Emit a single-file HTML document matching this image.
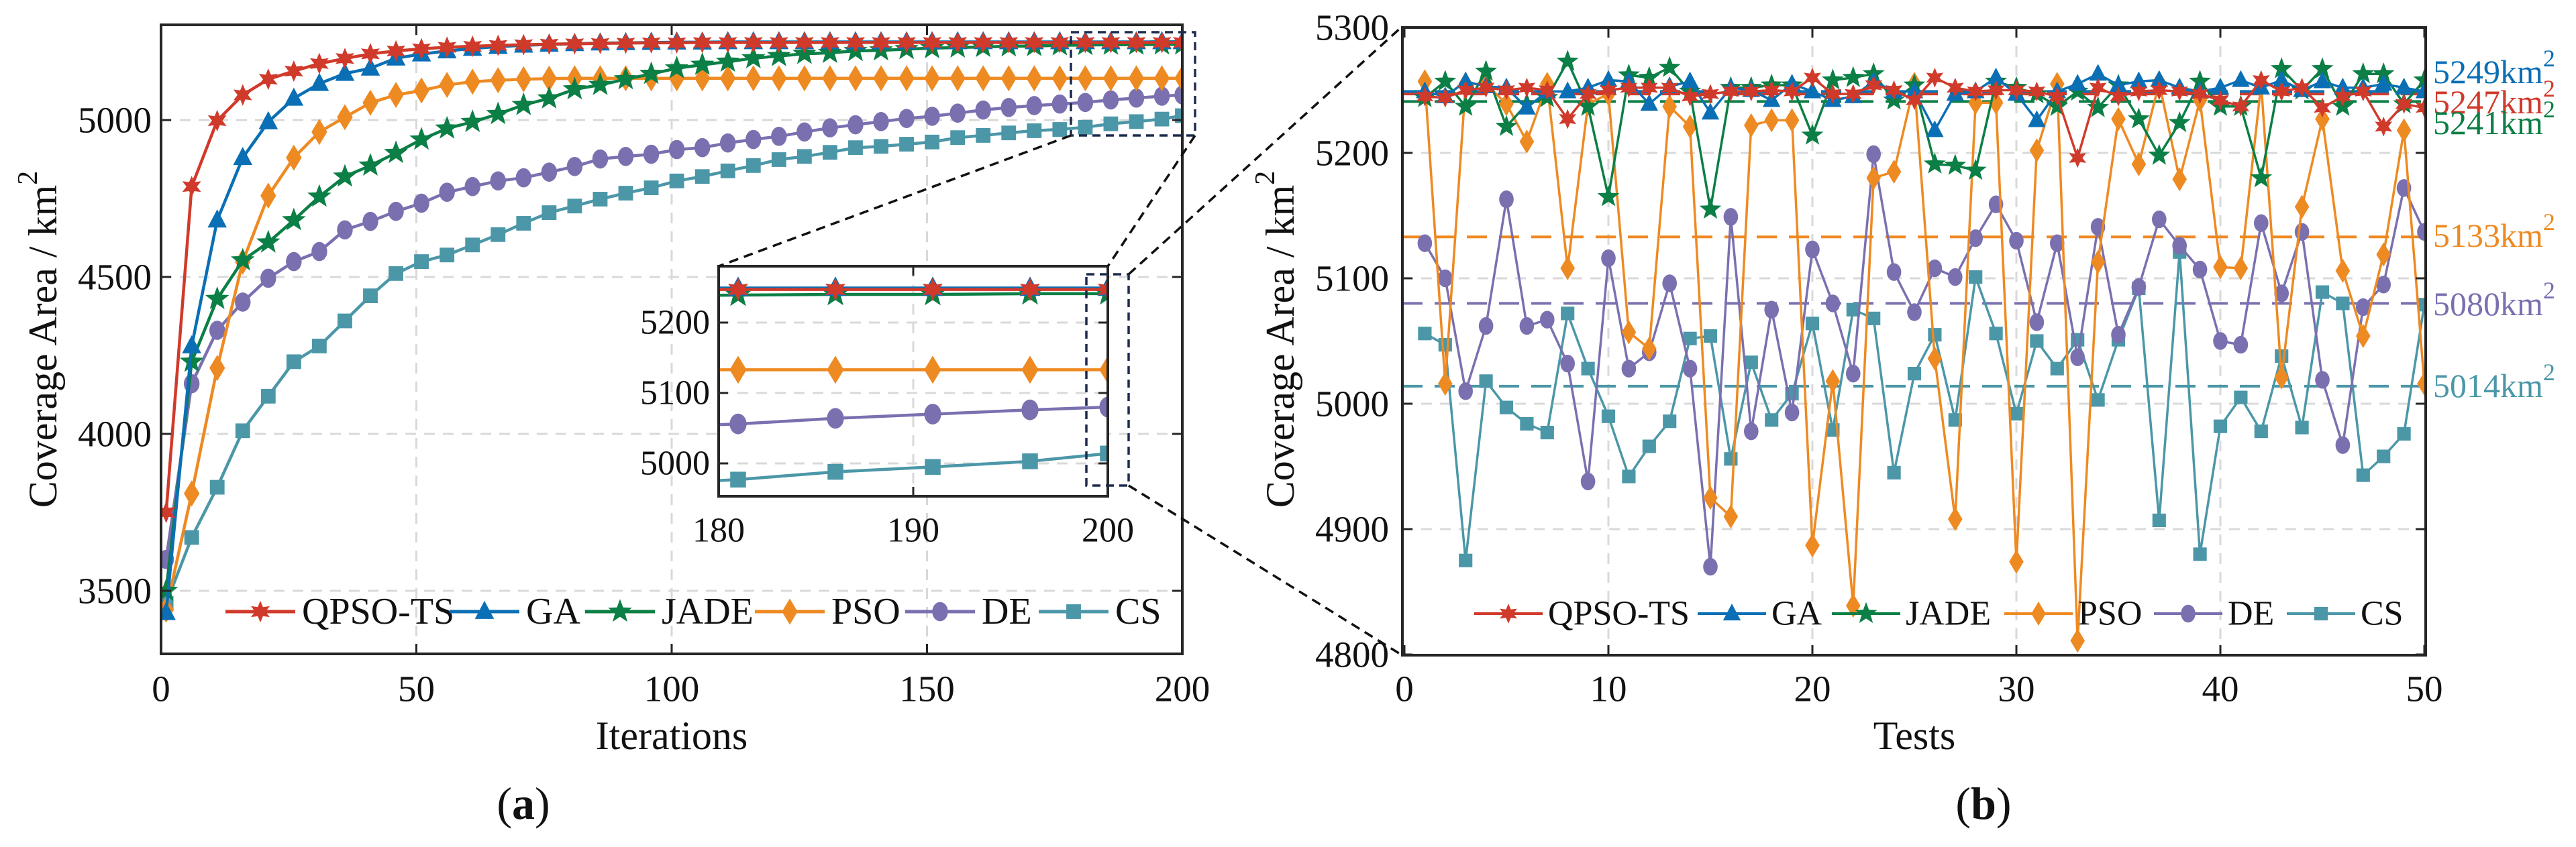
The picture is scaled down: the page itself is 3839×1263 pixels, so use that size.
<!DOCTYPE html>
<html><head><meta charset="utf-8">
<style>
html,body{margin:0;padding:0;background:#fff;}
svg{display:block;font-family:"Liberation Serif","DejaVu Serif",serif;}
</style></head>
<body>
<svg id="fig" width="3839" height="1263" viewBox="0 0 3839 1263" xmlns="http://www.w3.org/2000/svg">
<defs>
<clipPath id="clipL"><rect x="240" y="37" width="1522" height="938"/></clipPath>
<clipPath id="clipI"><rect x="1071" y="397" width="580" height="343"/></clipPath>
<clipPath id="clipR"><rect x="2090" y="41" width="1525" height="936"/></clipPath>
</defs>
<g id="root"></g>
</svg>
<script>
// ---------- data: panel (a) convergence ----------
const iterations = [1,6,11,16,21,26,31,36,41,46,51,56,61,66,71,76,81,86,91,96,101,106,111,116,121,126,131,136,141,146,151,156,161,166,171,176,181,186,191,196,200];
const seriesNames = ["QPSO-TS","GA","JADE","PSO","DE","CS"];
const convQPSO = [3750,4788,4998,5080,5130,5156,5180,5196,5211,5220,5227,5232,5235,5238,5240,5242,5243,5244,5245,5246,5246,5247,5247,5247,5247,5247,5247,5247,5247,5247,5247,5247,5247,5247,5247,5247,5247,5247,5247,5247,5247];
const convGA = [3430,4280,4681,4880,4994,5069,5116,5148,5165,5197,5210,5220,5228,5234,5238,5241,5243,5245,5246,5247,5248,5248,5249,5249,5249,5249,5249,5249,5249,5249,5249,5249,5249,5249,5249,5249,5249,5249,5249,5249,5249];
const convJADE = [3500,4230,4430,4553,4610,4681,4756,4820,4855,4895,4938,4973,4994,5019,5048,5069,5098,5112,5130,5147,5165,5176,5186,5197,5204,5211,5214,5220,5222,5226,5229,5231,5233,5235,5236,5238,5239,5240,5240,5241,5241];
const convPSO = [3440,3810,4210,4549,4759,4880,4962,5009,5055,5080,5094,5112,5122,5127,5130,5132,5133,5133,5133,5133,5133,5133,5133,5133,5133,5133,5133,5133,5133,5133,5133,5133,5133,5133,5133,5133,5133,5133,5133,5133,5133];
const convDE = [3600,4160,4330,4420,4496,4549,4581,4650,4677,4709,4735,4770,4788,4806,4816,4834,4852,4876,4884,4891,4906,4912,4927,4938,4948,4962,4975,4985,4995,5005,5012,5022,5032,5040,5046,5051,5056,5064,5070,5076,5080];
const convCS = [3460,3670,3830,4010,4120,4230,4280,4360,4440,4511,4549,4570,4602,4635,4671,4705,4726,4748,4767,4784,4806,4820,4838,4855,4874,4884,4897,4912,4916,4923,4930,4944,4951,4959,4966,4970,4977,4988,4995,5003,5014];
const xTicksA = [0,50,100,150,200];
const yTicksA = [3500,4000,4500,5000];
const xTicksInset = [180,190,200];
const yTicksInset = [5000,5100,5200];
// ---------- data: panel (b) tests ----------
const tests = [1,2,3,4,5,6,7,8,9,10,11,12,13,14,15,16,17,18,19,20,21,22,23,24,25,26,27,28,29,30,31,32,33,34,35,36,37,38,39,40,41,42,43,44,45,46,47,48,49,50];
const testQPSO = [5245,5244,5250,5252,5250,5252,5250,5227,5247,5250,5252,5252,5252,5245,5247,5249,5249,5250,5249,5260,5247,5247,5254,5250,5242,5260,5252,5249,5250,5250,5249,5245,5196,5252,5245,5249,5250,5249,5247,5242,5237,5258,5249,5252,5236,5245,5249,5221,5239,5236];
const testGA = [5249,5245,5257,5253,5252,5236,5249,5249,5252,5258,5257,5239,5253,5257,5232,5252,5250,5242,5255,5249,5242,5245,5257,5249,5249,5218,5247,5249,5260,5247,5226,5249,5255,5263,5254,5257,5258,5252,5249,5252,5258,5252,5258,5250,5257,5252,5252,5255,5252,5249];
const testJADE = [5244,5257,5237,5265,5221,5239,5244,5273,5237,5165,5262,5260,5268,5249,5155,5252,5252,5254,5254,5214,5258,5260,5263,5242,5254,5191,5190,5186,5257,5252,5247,5237,5249,5236,5254,5227,5198,5224,5257,5237,5237,5180,5267,5250,5267,5237,5263,5263,5239,5258];
const testPSO = [5257,5016,5255,5255,5239,5209,5255,5108,5239,5247,5057,5044,5237,5221,4925,4910,5222,5226,5226,4887,5018,4839,5180,5185,5255,5036,4908,5240,5240,4874,5202,5255,4811,5113,5227,5191,5256,5179,5242,5109,5108,5255,5021,5157,5227,5106,5054,5119,5218,5016];
const testDE = [5128,5100,5010,5062,5163,5062,5067,5032,4938,5116,5028,5041,5096,5028,4870,5149,4978,5075,4993,5123,5080,5024,5199,5105,5073,5108,5101,5132,5159,5130,5065,5128,5037,5141,5055,5093,5147,5126,5107,5050,5047,5144,5088,5137,5019,4967,5077,5095,5172,5137];
const testCS = [5056,5047,4875,5018,4997,4984,4977,5072,5028,4990,4942,4966,4986,5052,5054,4956,5033,4987,5008,5064,4979,5075,5068,4945,5024,5055,4987,5101,5056,4992,5050,5028,5051,5003,5051,5092,4907,5121,4880,4982,5005,4978,5038,4981,5089,5080,4943,4958,4976,5079];
const meanValues = [5247,5249,5241,5133,5080,5014];
const meanLabels = ["5247","5249","5241","5133","5080","5014"];
const xTicksB = [0,10,20,30,40,50];
const yTicksB = [4800,4900,5000,5100,5200,5300];

// ---------- styles ----------
const colors = ["#D03A2B","#0A6FB5","#0B7F45","#EE8A22","#7A70B0","#4B97A8"];
const shapes = ["hex","tri","star","dia","circ","sq"];

// ---------- axes ----------
const XA = v => 240 + (v-0)*7.61;
const YA = v => 179 + (5000-v)*0.468;
const XI = v => 1071 + (v-180)*29;
const YI = v => 586 + (5100-v)*1.05;
const XB = v => 2093 + v*30.4;
const YB = v => 41 + (5300-v)*1.87;

const NS = "http://www.w3.org/2000/svg";
const root = document.getElementById('root');
function el(tag, attrs, parent){
  const e = document.createElementNS(NS, tag);
  for (const k in attrs) e.setAttribute(k, attrs[k]);
  (parent||root).appendChild(e);
  return e;
}
function txt(x,y,s,size,anchor,parent,extra){
  const t = el('text',{x:x,y:y,'font-size':size,'text-anchor':anchor||'middle','dominant-baseline':'central',fill:'#111'},parent);
  t.textContent = s;
  if(extra) for(const k in extra) t.setAttribute(k, extra[k]);
  return t;
}
function starPts(cx,cy,n,ro,ri){
  let p=[];
  for(let i=0;i<2*n;i++){
    const a = -Math.PI/2 + i*Math.PI/n;
    const r = i%2===0?ro:ri;
    p.push((cx+r*Math.cos(a)).toFixed(1)+','+(cy+r*Math.sin(a)).toFixed(1));
  }
  return p.join(' ');
}
function marker(shape,cx,cy,s,color,parent){
  let m;
  if(shape==='circ') m = el('ellipse',{cx:cx,cy:cy,rx:s*0.45,ry:s*0.55,fill:color},parent);
  else if(shape==='sq') m = el('rect',{x:cx-s*0.42,y:cy-s*0.42,width:s*0.84,height:s*0.84,fill:color},parent);
  else if(shape==='dia') m = el('polygon',{points:`${cx},${cy-s*0.75} ${cx+s*0.45},${cy} ${cx},${cy+s*0.75} ${cx-s*0.45},${cy}`,fill:color},parent);
  else if(shape==='tri') m = el('polygon',{points:`${cx},${cy-s*0.62} ${cx+s*0.55},${cy+s*0.42} ${cx-s*0.55},${cy+s*0.42}`,fill:color},parent);
  else if(shape==='star') m = el('polygon',{points:starPts(cx,cy,5,s*0.72,s*0.3),fill:color},parent);
  else m = el('polygon',{points:starPts(cx,cy,6,s*0.62,s*0.3),fill:color},parent);
  return m;
}
function series(xs,ys,fx,fy,color,shape,lw,ms,parent,name,filt){
  const g = el('g',{},parent);
  
  
  let pts=[];
  xs.forEach((x,i)=>{ if(!filt||filt(x)) pts.push(fx(x).toFixed(1)+','+fy(ys[i]).toFixed(1)); });
  el('polyline',{points:pts.join(' '),fill:'none',stroke:color,'stroke-width':lw,'stroke-linejoin':'round'},g);
  xs.forEach((x,i)=>{ if(!filt||filt(x)){
    const m = marker(shape,fx(x),fy(ys[i]),ms,color,g);
    
    
  }});
  return g;
}
const GRID = '#d9d9d9';

// ================= Panel (a) =================
const pa = el('g',{});


// grid
xTicksA.forEach(v=>{ if(v>0&&v<200){ const l=el('line',{x1:XA(v),y1:37,x2:XA(v),y2:975,stroke:GRID,'stroke-width':3,'stroke-dasharray':'16 12'},pa);
    }});
yTicksA.forEach(v=>{ const l=el('line',{x1:240,y1:YA(v),x2:1762,y2:YA(v),stroke:GRID,'stroke-width':3,'stroke-dasharray':'16 12'},pa);
    });
// series
const convAll = [convQPSO,convGA,convJADE,convPSO,convDE,convCS];
const gA = el('g',{'clip-path':'url(#clipL)'},pa);
for(let k=5;k>=0;k--) series(iterations,convAll[k],XA,YA,colors[k],shapes[k],4.5,26,gA,'series-'+seriesNames[k].toLowerCase());
// frame & ticks
const fa = el('rect',{x:240,y:37,width:1522,height:938,fill:'none',stroke:'#262626','stroke-width':4},pa);
 
xTicksA.forEach(v=>{
  el('line',{x1:XA(v),y1:975,x2:XA(v),y2:960,stroke:'#262626','stroke-width':3},pa);
  el('line',{x1:XA(v),y1:37,x2:XA(v),y2:52,stroke:'#262626','stroke-width':3},pa);
  const t=txt(XA(v),1027,String(v),55,'middle',pa);
   
});
yTicksA.forEach(v=>{
  el('line',{x1:240,y1:YA(v),x2:255,y2:YA(v),stroke:'#262626','stroke-width':3},pa);
  el('line',{x1:1762,y1:YA(v),x2:1747,y2:YA(v),stroke:'#262626','stroke-width':3},pa);
  const t=txt(226,YA(v),String(v),55,'end',pa);
   
});
// zoom box
const zb = el('rect',{x:1596,y:48,width:185,height:154,fill:'none',stroke:'#1d2b4f','stroke-width':3.5,'stroke-dasharray':'12 8'},pa);
 
// connectors
[[1596,202,1071,397],[1781,202,1651,397],[1682,409,2088,41],[1682,724,2088,976]].forEach(c=>{
  const l = el('line',{x1:c[0],y1:c[1],x2:c[2],y2:c[3],stroke:'#111','stroke-width':3.5,'stroke-dasharray':'14 9'});
   
});
// inset
const ins = el('g',{},pa);
 
el('rect',{x:1071,y:397,width:580,height:343,fill:'#fff'},ins);
el('line',{x1:XI(190),y1:397,x2:XI(190),y2:740,stroke:GRID,'stroke-width':3,'stroke-dasharray':'16 12'},ins);
yTicksInset.forEach(v=>el('line',{x1:1071,y1:YI(v),x2:1651,y2:YI(v),stroke:GRID,'stroke-width':3,'stroke-dasharray':'16 12'},ins));
const gI = el('g',{'clip-path':'url(#clipI)'},ins);
for(let k=5;k>=0;k--) series(iterations,convAll[k],XI,YI,colors[k],shapes[k],4.5,28,gI,'inset-series-'+seriesNames[k].toLowerCase(),x=>x>=176);
el('rect',{x:1071,y:397,width:580,height:343,fill:'none',stroke:'#262626','stroke-width':4},ins);
xTicksInset.forEach(v=>{
  el('line',{x1:XI(v),y1:740,x2:XI(v),y2:726,stroke:'#262626','stroke-width':3},ins);
  el('line',{x1:XI(v),y1:397,x2:XI(v),y2:411,stroke:'#262626','stroke-width':3},ins);
  const t=txt(XI(v),791,String(v),52,'middle',ins);
   
});
yTicksInset.forEach(v=>{
  el('line',{x1:1071,y1:YI(v),x2:1085,y2:YI(v),stroke:'#262626','stroke-width':3},ins);
  el('line',{x1:1651,y1:YI(v),x2:1637,y2:YI(v),stroke:'#262626','stroke-width':3},ins);
  const t=txt(1058,YI(v),String(v),52,'end',ins);
   
});
const izb = el('rect',{x:1619,y:409,width:63,height:315,fill:'none',stroke:'#1d2b4f','stroke-width':3.5,'stroke-dasharray':'12 8'},ins);
 
// legend a
const legA = el('g',{},pa);
 
const legAx = [336,670,872,1125,1349,1548];
seriesNames.forEach((n,k)=>{
  const g = el('g',{},legA);
   
  el('line',{x1:legAx[k],y1:912,x2:legAx[k]+104,y2:912,stroke:colors[k],'stroke-width':5},g);
  marker(shapes[k],legAx[k]+52,912,26,colors[k],g);
  txt(legAx[k]+114,912,n,56,'start',g);
});
// titles a
const yta = txt(64,506,'',60,'middle',pa,{transform:'rotate(-90 64 506)'});
 
yta.innerHTML = 'Coverage Area / km<tspan dy="-22" font-size="42">2</tspan>';
const xta = txt(1001,1097,'Iterations',60,'middle',pa);
 
const capa = txt(780,1198,'',68,'middle',pa);
 
capa.innerHTML = '(<tspan font-weight="bold">a</tspan>)';

// ================= Panel (b) =================
const pb = el('g',{});


xTicksB.forEach(v=>{ if(v>0&&v<50){ const l=el('line',{x1:XB(v),y1:41,x2:XB(v),y2:977,stroke:GRID,'stroke-width':3,'stroke-dasharray':'16 12'},pb);
    }});
yTicksB.forEach(v=>{ if(v>4800&&v<5300){ const l=el('line',{x1:2090,y1:YB(v),x2:3615,y2:YB(v),stroke:GRID,'stroke-width':3,'stroke-dasharray':'16 12'},pb);
    }});
const gB = el('g',{'clip-path':'url(#clipR)'},pb);
meanValues.forEach((v,k)=>{
  const l = el('line',{x1:2090,y1:YB(v),x2:3615,y2:YB(v),stroke:colors[k],'stroke-width':4,'stroke-dasharray':'30 18'},gB);
   
});
const testAll = [testQPSO,testGA,testJADE,testPSO,testDE,testCS];
for(let k=5;k>=0;k--) series(tests,testAll[k],XB,YB,colors[k],shapes[k],3.5,24,gB,'test-series-'+seriesNames[k].toLowerCase());
const fb = el('rect',{x:2090,y:41,width:1525,height:936,fill:'none',stroke:'#262626','stroke-width':4},pb);
 
xTicksB.forEach(v=>{
  el('line',{x1:XB(v),y1:977,x2:XB(v),y2:962,stroke:'#262626','stroke-width':3},pb);
  el('line',{x1:XB(v),y1:41,x2:XB(v),y2:56,stroke:'#262626','stroke-width':3},pb);
  const t=txt(XB(v),1027,String(v),55,'middle',pb);
   
});
yTicksB.forEach(v=>{
  el('line',{x1:2090,y1:YB(v),x2:2105,y2:YB(v),stroke:'#262626','stroke-width':3},pb);
  el('line',{x1:3615,y1:YB(v),x2:3600,y2:YB(v),stroke:'#262626','stroke-width':3},pb);
  const t=txt(2070,YB(v),String(v),55,'end',pb);
   
});
// mean labels
const meanLabelY = [152,107,183,351,453,575];
meanLabels.forEach((s,k)=>{
  const t = txt(3626,meanLabelY[k],'',50,'start',pb,{fill:colors[k]});
  
  
  t.innerHTML = s+'km<tspan dy="-20" font-size="36">2</tspan>';
});
// legend b
const legB = el('g',{},pb);
 
const legBx = [2197,2530,2730,2987,3210,3408];
seriesNames.forEach((n,k)=>{
  const g = el('g',{},legB);
   
  el('line',{x1:legBx[k],y1:915,x2:legBx[k]+102,y2:915,stroke:colors[k],'stroke-width':4},g);
  marker(shapes[k],legBx[k]+51,915,24,colors[k],g);
  txt(legBx[k]+110,915,n,52,'start',g);
});
const ytb = txt(1908,506,'',60,'middle',pb,{transform:'rotate(-90 1908 506)'});
 
ytb.innerHTML = 'Coverage Area / km<tspan dy="-22" font-size="42">2</tspan>';
const xtb = txt(2853,1097,'Tests',60,'middle',pb);
 
const capb = txt(2956,1198,'',68,'middle',pb);
 
capb.innerHTML = '(<tspan font-weight="bold">b</tspan>)';
</script>
</body></html>
